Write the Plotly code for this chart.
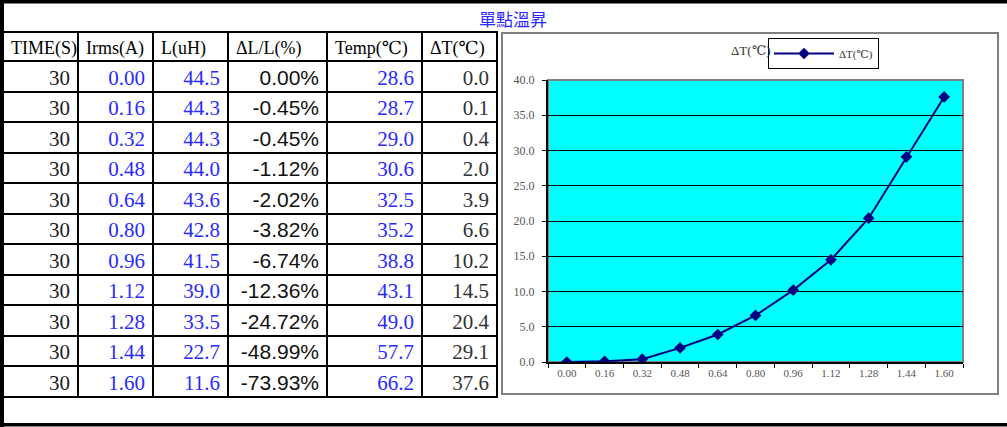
import plotly.graph_objects as go

# table / chart data
time_s = [30, 30, 30, 30, 30, 30, 30, 30, 30, 30, 30]
irms = [0.00, 0.16, 0.32, 0.48, 0.64, 0.80, 0.96, 1.12, 1.28, 1.44, 1.60]
l_uh = [44.5, 44.3, 44.3, 44.0, 43.6, 42.8, 41.5, 39.0, 33.5, 22.7, 11.6]
dl_pct = [0.00, -0.45, -0.45, -1.12, -2.02, -3.82, -6.74, -12.36, -24.72, -48.99, -73.93]
temp = [28.6, 28.7, 29.0, 30.6, 32.5, 35.2, 38.8, 43.1, 49.0, 57.7, 66.2]
dT = [0.0, 0.1, 0.4, 2.0, 3.9, 6.6, 10.2, 14.5, 20.4, 29.1, 37.6]

headers = ["TIME(S)", "Irms(A)", "L(uH)", "ΔL/L(%)", "Temp(℃)", "ΔT(℃)"]
x_labels = ["%.2f" % v for v in irms]

W, H = 1007, 427
def px(x):
    return x / W
def py(y):
    return 1 - y / H

SERIF = "Liberation Serif, DejaVu Serif, serif"
SANS = "Liberation Sans, Arial, sans-serif"
BLUE = "#2a2aff"

cells_text = [
    [str(v) for v in time_s],
    ["%.2f" % v for v in irms],
    ["%.1f" % v for v in l_uh],
    ["%.2f%%" % v for v in dl_pct],
    ["%.1f" % v for v in temp],
    ["%.1f" % v for v in dT],
]

fig = go.Figure()

fig.add_trace(go.Table(
    domain=dict(x=[px(3), px(497)], y=[py(399), py(32)]),
    columnwidth=[75, 75, 75, 99, 95, 75],
    header=dict(values=headers, align="left", height=29,
                line=dict(color="black", width=2), fill=dict(color="white"),
                font=dict(family=SERIF, size=18, color="black")),
    cells=dict(values=cells_text, align="right", height=30.5,
               line=dict(color="black", width=2), fill=dict(color="white"),
               font=dict(family=[SERIF, SERIF, SERIF, SANS, SERIF, SERIF], size=21,
                         color=["#222", BLUE, BLUE, "#111", BLUE, "#333"])),
))

fig.add_trace(go.Scatter(
    x=x_labels, y=dT, mode="lines+markers", name="ΔT(℃)",
    line=dict(color="#000080", width=2),
    marker=dict(symbol="diamond", size=9, color="#000080"),
))

fig.update_layout(
    width=W, height=H, margin=dict(l=0, r=0, t=0, b=0, pad=0, autoexpand=False),
    paper_bgcolor="white", plot_bgcolor="#00ffff",
    title=dict(text="ΔT(℃)", x=px(731), xanchor="left", y=py(50), yanchor="middle",
               font=dict(family=SERIF, size=13, color="#333")),
    showlegend=True,
    legend=dict(x=px(768), xanchor="left", y=py(38), yanchor="top",
                bgcolor="white", bordercolor="black", borderwidth=1, itemwidth=60,
                font=dict(family=SERIF, size=11, color="#333")),
    xaxis=dict(domain=[px(548), px(963)], type="category", range=[-0.5, 10.5],
               tickson="boundaries", ticks="outside", ticklen=4, tickcolor="black",
               showline=True, linecolor="black", linewidth=2, showgrid=False,
               automargin=False,
               tickfont=dict(family=SERIF, size=11, color="#555")),
    yaxis=dict(domain=[py(362), py(80)], range=[0, 40], dtick=5, tickformat=".1f",
               ticks="outside", ticklen=4, tickcolor="black", ticklabelstandoff=5,
               showline=True, linecolor="black", linewidth=2, automargin=False,
               gridcolor="#000000", gridwidth=1, zeroline=False,
               tickfont=dict(family=SERIF, size=12, color="#555")),
)

fig.add_annotation(text="單點溫昇", x=px(513), y=py(18), xref="paper", yref="paper",
                   xanchor="center", yanchor="middle", showarrow=False,
                   font=dict(family="Noto Sans CJK TC", size=17, color=BLUE))

shapes = [
    # page borders
    dict(type="rect", xref="paper", yref="paper", x0=0, x1=1, y0=py(3.5), y1=1.01,
         fillcolor="black", line=dict(width=0)),
    dict(type="rect", xref="paper", yref="paper", x0=-0.01, x1=px(4), y0=-0.01, y1=1.01,
         fillcolor="black", line=dict(width=0)),
    dict(type="rect", xref="paper", yref="paper", x0=0, x1=1, y0=py(426.5), y1=py(423),
         fillcolor="black", line=dict(width=0)),
    # chart box
    dict(type="rect", xref="paper", yref="paper", x0=px(502), x1=px(998), y0=py(394), y1=py(33),
         line=dict(color="#808080", width=2), layer="below"),
    # plot area frame
    dict(type="rect", xref="x domain", yref="y domain", x0=0, x1=1, y0=0, y1=1,
         line=dict(color="#808080", width=2), layer="below"),
]
fig.update_layout(shapes=shapes)

pin = ("document.body.style.margin='0';document.body.style.overflow='hidden';"
       "var d=document.getElementById('{plot_id}');"
       "d.style.position='fixed';d.style.left='0';d.style.top='0';")
fig.write_html("out.html", config={"displayModeBar": False}, post_script=pin)
